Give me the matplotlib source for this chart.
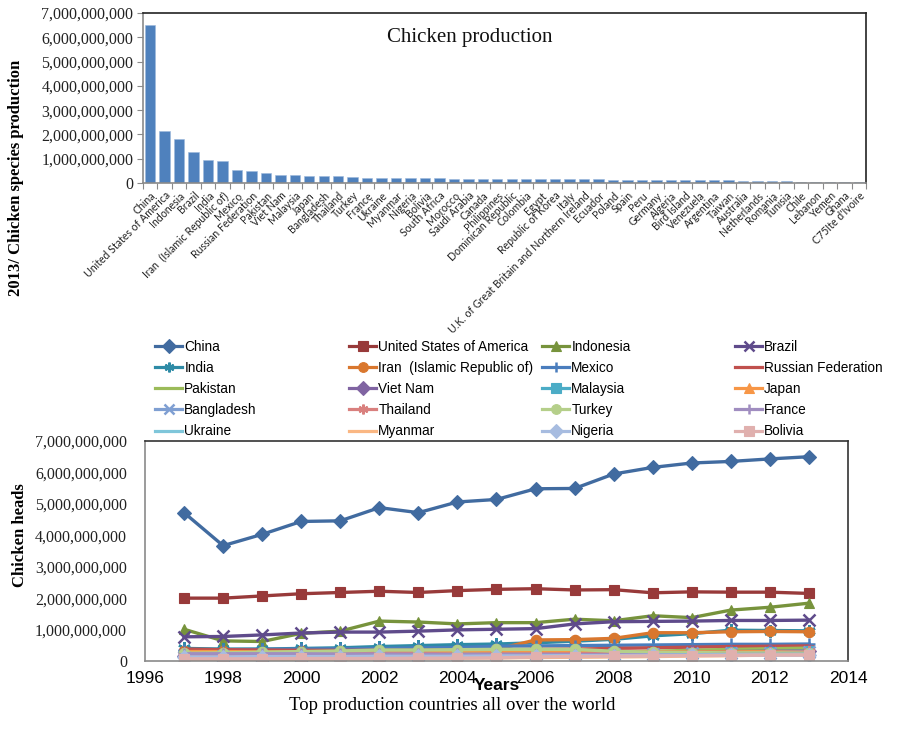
import matplotlib
matplotlib.use("Agg")
import matplotlib.pyplot as plt
from matplotlib.ticker import FuncFormatter, FixedLocator
from matplotlib.lines import Line2D

# ---------------- data ----------------
countries = ["China", "United States of America", "Indonesia", "Brazil", "India",
             "Iran  (Islamic Republic of)", "Mexico", "Russian Federation", "Pakistan",
             "Viet Nam", "Malaysia", "Japan", "Bangladesh", "Thailand", "Turkey", "France",
             "Ukraine", "Myanmar", "Nigeria", "Bolivia", "South Africa", "Morocco",
             "Saudi Arabia", "Canada", "Philippines", "Dominican Republic", "Colombia",
             "Egypt", "Republic of Korea", "Italy",
             "U.K. of Great Britain and Northern Ireland", "Ecuador", "Poland", "Spain",
             "Peru", "Germany", "Algeria", "Bird Island", "Venezuela", "Argentina",
             "Taiwan", "Australia", "Netherlands", "Romania", "Tunisia", "Chile",
             "Lebanon", "Yemen", "Ghana", "C7\u03045\u0304Ite d'Ivoire"]
production_2013 = [6.50, 2.14, 1.83, 1.29, 0.96, 0.92, 0.53, 0.48, 0.41, 0.32,
                   0.31, 0.30, 0.29, 0.28, 0.25, 0.21, 0.21, 0.20, 0.19, 0.19,
                   0.19, 0.18, 0.18, 0.17, 0.17, 0.17, 0.16, 0.16, 0.155, 0.15,
                   0.15, 0.145, 0.14, 0.135, 0.13, 0.13, 0.125, 0.12, 0.12, 0.115,
                   0.11, 0.10, 0.10, 0.09, 0.08, 0.06, 0.04, 0.04, 0.035, 0.03]  # billions

years = list(range(1997, 2014))
china = [4.72, 3.67, 4.03, 4.44, 4.46, 4.88, 4.72, 5.06, 5.14, 5.48, 5.49, 5.95, 6.16, 6.30, 6.35, 6.43, 6.50]
usa = [2.00, 2.00, 2.07, 2.14, 2.18, 2.22, 2.18, 2.24, 2.28, 2.30, 2.26, 2.27, 2.17, 2.20, 2.19, 2.19, 2.15]
indonesia = [1.01, 0.64, 0.62, 0.88, 0.95, 1.27, 1.24, 1.18, 1.22, 1.22, 1.33, 1.28, 1.44, 1.38, 1.62, 1.71, 1.84]
brazil = [0.77, 0.78, 0.83, 0.89, 0.92, 0.92, 0.95, 0.99, 1.01, 1.03, 1.18, 1.25, 1.26, 1.27, 1.29, 1.29, 1.30]
india = [0.40, 0.38, 0.38, 0.40, 0.42, 0.46, 0.49, 0.52, 0.54, 0.58, 0.63, 0.69, 0.80, 0.87, 0.98, 0.97, 0.96]
iran = [0.33, 0.31, 0.30, 0.31, 0.32, 0.33, 0.34, 0.35, 0.37, 0.67, 0.68, 0.72, 0.90, 0.90, 0.93, 0.94, 0.93]
mexico = [0.35, 0.36, 0.37, 0.38, 0.39, 0.40, 0.42, 0.43, 0.47, 0.48, 0.49, 0.50, 0.51, 0.52, 0.53, 0.53, 0.54]
russia = [0.38, 0.36, 0.35, 0.34, 0.34, 0.34, 0.34, 0.35, 0.36, 0.37, 0.38, 0.40, 0.42, 0.44, 0.46, 0.47, 0.48]
pakistan = [0.08, 0.09, 0.10, 0.11, 0.12, 0.13, 0.15, 0.17, 0.19, 0.21, 0.24, 0.28, 0.31, 0.34, 0.37, 0.39, 0.41]
vietnam = [0.16, 0.17, 0.18, 0.20, 0.21, 0.23, 0.25, 0.22, 0.22, 0.21, 0.23, 0.25, 0.27, 0.28, 0.30, 0.31, 0.32]
malaysia = [0.12, 0.13, 0.14, 0.15, 0.17, 0.19, 0.20, 0.20, 0.21, 0.22, 0.23, 0.24, 0.26, 0.27, 0.28, 0.30, 0.31]
japan = [0.30, 0.30, 0.29, 0.29, 0.29, 0.29, 0.29, 0.29, 0.28, 0.28, 0.28, 0.28, 0.29, 0.29, 0.29, 0.30, 0.30]
bangladesh = [0.14, 0.15, 0.16, 0.17, 0.18, 0.19, 0.20, 0.21, 0.22, 0.22, 0.22, 0.22, 0.23, 0.24, 0.26, 0.27, 0.29]
thailand = [0.20, 0.20, 0.21, 0.22, 0.23, 0.25, 0.26, 0.20, 0.22, 0.22, 0.23, 0.23, 0.24, 0.25, 0.26, 0.27, 0.28]
turkey = [0.25, 0.26, 0.28, 0.30, 0.32, 0.35, 0.35, 0.36, 0.37, 0.37, 0.37, 0.31, 0.28, 0.27, 0.26, 0.26, 0.25]
france = [0.23, 0.23, 0.23, 0.23, 0.22, 0.22, 0.21, 0.21, 0.20, 0.20, 0.20, 0.20, 0.20, 0.20, 0.21, 0.21, 0.21]
ukraine = [0.11, 0.10, 0.10, 0.10, 0.10, 0.11, 0.12, 0.13, 0.14, 0.15, 0.16, 0.17, 0.18, 0.19, 0.20, 0.21, 0.21]
myanmar = [0.04, 0.04, 0.05, 0.05, 0.06, 0.07, 0.08, 0.09, 0.10, 0.11, 0.12, 0.13, 0.14, 0.16, 0.17, 0.19, 0.20]
nigeria = [0.13, 0.13, 0.14, 0.14, 0.14, 0.15, 0.15, 0.15, 0.16, 0.16, 0.17, 0.17, 0.18, 0.18, 0.19, 0.19, 0.19]
bolivia = [0.07, 0.07, 0.07, 0.08, 0.08, 0.08, 0.09, 0.09, 0.10, 0.13, 0.14, 0.15, 0.16, 0.17, 0.18, 0.19, 0.19]

series_names = ["China", "United States of America", "Indonesia", "Brazil",
                "India", "Iran  (Islamic Republic of)", "Mexico", "Russian Federation",
                "Pakistan", "Viet Nam", "Malaysia", "Japan",
                "Bangladesh", "Thailand", "Turkey", "France",
                "Ukraine", "Myanmar", "Nigeria", "Bolivia"]
series_values = [china, usa, indonesia, brazil, india, iran, mexico, russia,
                 pakistan, vietnam, malaysia, japan, bangladesh, thailand, turkey, france,
                 ukraine, myanmar, nigeria, bolivia]

# ---------------- styles ----------------
ASTER = (6, 2, 0)
styles = [
    ("#416BA0", "D"), ("#983A3A", "s"), ("#77933C", "^"), ("#5F4B8B", "x"),
    ("#2E8BA6", ASTER), ("#D9772E", "o"), ("#4A7DBD", "+"), ("#C0504D", "_"),
    ("#9BBB59", None), ("#8064A2", "D"), ("#4BACC6", "s"), ("#F79646", "^"),
    ("#7F9FD2", "x"), ("#D9807E", ASTER), ("#B5CF8A", "o"), ("#A08DC0", "+"),
    ("#7FC6DA", "_"), ("#FAB783", "_"), ("#A7BCE0", "D"), ("#E0B0AE", "s"),
]

SERIF = "Liberation Serif"
SANS = "Liberation Sans"
GRAY = "#8a8a8a"

fig = plt.figure(figsize=(8.98, 7.45), dpi=100)

billions_fmt = FuncFormatter(lambda v, p: "0" if v == 0 else f"{int(round(v * 1e9)):,}")

# ---------------- top bar chart ----------------
ax1 = fig.add_axes([143 / 898, 1 - 183 / 745, 723 / 898, 170 / 745])
xpos = list(range(len(countries)))
ax1.bar(xpos, production_2013, width=0.72, color="#4F81BD", edgecolor="#9DB8DC", linewidth=0.4)
ax1.set_xlim(-0.5, len(countries) - 0.5)
ax1.set_ylim(0, 7)
ax1.set_yticks(range(0, 8))
ax1.yaxis.set_major_formatter(billions_fmt)
for lab in ax1.get_yticklabels():
    lab.set_fontfamily(SERIF)
    lab.set_fontsize(11.5)
    lab.set_color("#222222")
ax1.set_xticks(xpos)
ax1.set_xticklabels(countries, rotation=45, ha="right", rotation_mode="anchor",
                    fontsize=7.6, family=["Lato", "DejaVu Sans"], color="#222222")
ax1.xaxis.set_minor_locator(FixedLocator([i - 0.5 for i in range(len(countries) + 1)]))
ax1.tick_params(axis="x", which="major", length=0, pad=5)
ax1.tick_params(axis="x", which="minor", length=4, color=GRAY, width=0.8)
ax1.tick_params(axis="y", length=4, color=GRAY, width=0.8, pad=3)
ax1.spines["left"].set_color(GRAY)
ax1.spines["bottom"].set_color(GRAY)
ax1.spines["top"].set_color("#222222")
ax1.spines["right"].set_color("#222222")
for s in ax1.spines.values():
    s.set_linewidth(1.2)
ax1.text(0.452, 0.855, "Chicken production", transform=ax1.transAxes,
         ha="center", va="center", family=SERIF, fontsize=15, color="#111111")
fig.text(16 / 898, 1 - 178 / 745, "2013/ Chicken species production", rotation=90,
         ha="center", va="center", family=SERIF, fontsize=12, fontweight="bold")

# ---------------- bottom line chart ----------------
ax2 = fig.add_axes([145 / 898, 1 - 661 / 745, 703 / 898, 220 / 745])
handles = []
for name, vals, (col, mk) in zip(series_names, series_values, styles):
    ms = 7.5 if mk not in ("x", "+", ASTER) else 9
    ln, = ax2.plot(years, vals, color=col, linewidth=2.4, marker=mk, markersize=ms,
                   markeredgewidth=1.8 if mk in ("x", "+", ASTER, "_") else 0.8,
                   markeredgecolor=col, markerfacecolor=col, label=name)
    handles.append(ln)
ax2.set_xlim(1996, 2014)
ax2.set_xticks(range(1996, 2015, 2))
ax2.set_ylim(0, 7)
ax2.set_yticks(range(0, 8))
ax2.yaxis.set_major_formatter(billions_fmt)
for lab in ax2.get_yticklabels():
    lab.set_fontfamily(SERIF)
    lab.set_fontsize(11.5)
    lab.set_color("#222222")
for lab in ax2.get_xticklabels():
    lab.set_fontfamily(SANS)
    lab.set_fontsize(12.5)
ax2.tick_params(axis="both", length=0)
ax2.tick_params(axis="y", pad=13)
ax2.tick_params(axis="x", pad=7)
ax2.spines["left"].set_color(GRAY)
ax2.spines["bottom"].set_color(GRAY)
ax2.spines["top"].set_color("#333333")
ax2.spines["right"].set_color("#333333")
for s in ax2.spines.values():
    s.set_linewidth(1.2)
fig.text(497 / 898, 1 - 685 / 745, "Years", ha="center", va="center",
         family=SANS, fontsize=12.5, fontweight="bold")
fig.text(20 / 898, 1 - 535 / 745, "Chicken heads", rotation=90, ha="center",
         va="center", family=SERIF, fontsize=12, fontweight="bold")

# ---------------- legend (4 columns, row-major) ----------------
col_x = [155, 349, 542, 735]
for c in range(4):
    hs = [handles[r * 4 + c] for r in range(5)]
    ls = [series_names[r * 4 + c] for r in range(5)]
    proxies = []
    for h in hs:
        proxies.append(Line2D([], [], color=h.get_color(), linewidth=2.3,
                              marker=h.get_marker(), markersize=7,
                              markeredgewidth=h.get_markeredgewidth(),
                              markerfacecolor=h.get_color(), markeredgecolor=h.get_color()))
    fig.legend(proxies, ls, loc="upper left",
               bbox_to_anchor=(col_x[c] / 898, 1 - 340 / 745),
               frameon=False, borderpad=0, borderaxespad=0, handlelength=2.0,
               handletextpad=0.15, labelspacing=0.52,
               prop={"family": SANS, "size": 9.8})

fig.text(452 / 898, 1 - 706 / 745, "Top production countries all over the world",
         ha="center", va="center", family=SERIF, fontsize=13.5)

fig.savefig("out.png", dpi=100)
